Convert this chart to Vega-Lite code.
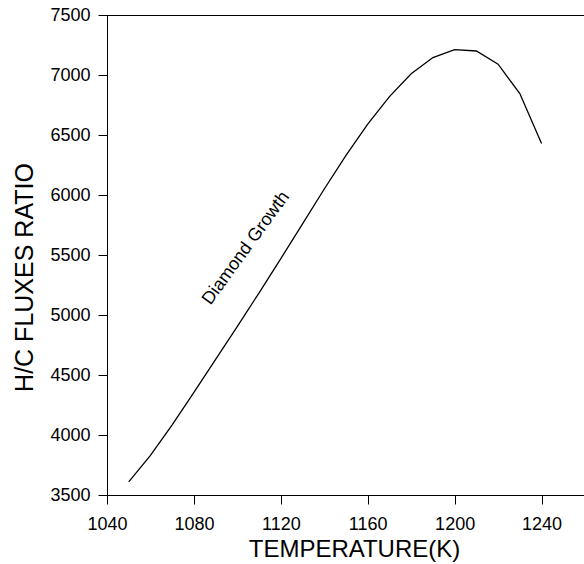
{
  "$schema": "https://vega.github.io/schema/vega-lite/v6.json",
  "width": 478,
  "height": 480,
  "autosize": "none",
  "padding": {"left": 107, "top": 15, "right": 0, "bottom": 69},
  "background": "white",
  "config": {
    "view": {"stroke": "black", "strokeWidth": 1},
    "font": "Liberation Sans",
    "axis": {
      "grid": false,
      "domainColor": "black",
      "tickColor": "black",
      "labelColor": "black",
      "titleColor": "black",
      "labelFont": "Liberation Sans",
      "titleFont": "Liberation Sans",
      "labelFontSize": 18,
      "titleFontSize": 24,
      "titleFontWeight": "normal",
      "tickSize": 9,
      "labelFlush": false,
      "format": "d"
    }
  },
  "datasets": {
    "curve": [
      {"T": 1050, "ratio": 3610},
      {"T": 1060, "ratio": 3830},
      {"T": 1070, "ratio": 4085},
      {"T": 1080, "ratio": 4355},
      {"T": 1090, "ratio": 4630},
      {"T": 1100, "ratio": 4905},
      {"T": 1110, "ratio": 5185},
      {"T": 1120, "ratio": 5470},
      {"T": 1130, "ratio": 5760},
      {"T": 1140, "ratio": 6050},
      {"T": 1150, "ratio": 6330},
      {"T": 1160, "ratio": 6590},
      {"T": 1170, "ratio": 6820},
      {"T": 1180, "ratio": 7010},
      {"T": 1190, "ratio": 7145},
      {"T": 1200, "ratio": 7212},
      {"T": 1210, "ratio": 7200},
      {"T": 1220, "ratio": 7090},
      {"T": 1230, "ratio": 6845},
      {"T": 1240, "ratio": 6430}
    ],
    "note": [
      {"T": 1104, "ratio": 5556, "label": "Diamond Growth"}
    ]
  },
  "layer": [
    {
      "data": {"name": "curve"},
      "mark": {"type": "line", "color": "black", "strokeWidth": 1.3},
      "encoding": {
        "x": {
          "field": "T", "type": "quantitative",
          "scale": {"domain": [1040, 1260], "nice": false, "zero": false},
          "axis": {
            "title": "TEMPERATURE(K)",
            "values": [1040, 1080, 1120, 1160, 1200, 1240],
            "labelPadding": 11,
            "titleX": 247,
            "titleY": 61,
            "titleBaseline": "alphabetic"
          }
        },
        "y": {
          "field": "ratio", "type": "quantitative",
          "scale": {"domain": [3500, 7500], "nice": false, "zero": false},
          "axis": {
            "title": "H/C FLUXES RATIO",
            "titleFontSize": 25,
            "values": [3500, 4000, 4500, 5000, 5500, 6000, 6500, 7000, 7500],
            "labelPadding": 8,
            "titleX": -75,
            "titleY": 262,
            "titleBaseline": "alphabetic"
          }
        }
      }
    },
    {
      "data": {"name": "note"},
      "mark": {"type": "text", "angle": -54, "fontSize": 18, "font": "Liberation Sans", "color": "black", "align": "center", "baseline": "middle"},
      "encoding": {
        "x": {"field": "T", "type": "quantitative"},
        "y": {"field": "ratio", "type": "quantitative"},
        "text": {"field": "label"}
      }
    }
  ]
}
